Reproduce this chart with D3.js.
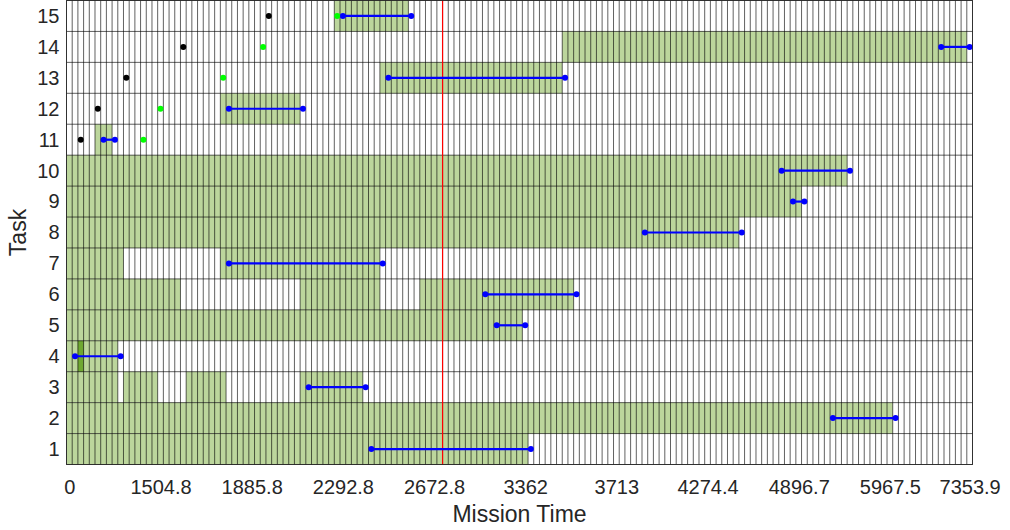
<!DOCTYPE html>
<html>
<head>
<meta charset="utf-8">
<title>Task schedule</title>
<script src="https://d3js.org/d3.v7.min.js"></script>
<style>
  body { margin: 0; background: #fff; }
  svg { font-family: "Liberation Sans", Arial, sans-serif; }
</style>
</head>
<body>
<script>
// time slots on the x axis (one column per slot)
var nSlots = 159;
var tickSlots = [0, 16, 32, 48, 64, 80, 96, 112, 128, 144, 158];
var tickLabels = ["0", "1504.8", "1885.8", "2292.8", "2672.8", "3362", "3713", "4274.4", "4896.7", "5967.5", "7353.9"];
var tasks = [1, 2, 3, 4, 5, 6, 7, 8, 9, 10, 11, 12, 13, 14, 15];

// busy blocks: [task, first slot, end slot]
var blocks = [
  [15, 47, 60], [14, 87, 158], [13, 55, 87], [12, 27, 41], [11, 5, 8],
  [10, 0, 137], [9, 0, 129], [8, 0, 118],
  [7, 0, 10], [7, 27, 55],
  [6, 0, 20], [6, 41, 55], [6, 62, 89],
  [5, 0, 80], [4, 0, 9],
  [3, 0, 9], [3, 10, 16], [3, 21, 28], [3, 41, 52],
  [2, 0, 145], [1, 0, 81]
];
var darkBlocks = [[4, 2, 3]];

// blue spans: [task, from slot, to slot]
var spans = [
  [15, 48, 60], [14, 153, 158], [13, 56, 87], [12, 28, 41], [11, 6, 8],
  [10, 125, 137], [9, 127, 129], [8, 101, 118], [7, 28, 55], [6, 73, 89],
  [5, 75, 80], [4, 1, 9], [3, 42, 52], [2, 134, 145], [1, 53, 81]
];
var blackDots = [[15, 35], [14, 20], [13, 10], [12, 5], [11, 2]];
var greenDots = [[15, 47], [14, 34], [13, 27], [12, 16], [11, 13]];
var currentSlot = 66;

var W = 1010, H = 530;
var svg = d3.select("body").append("svg").attr("width", W).attr("height", H);

var x = d3.scaleLinear().domain([0, nSlots]).range([66.5, 972.5]);
var y = d3.scaleLinear().domain([0.5, 15.5]).range([464.5, 0.5]);
var rowH = y(0.5) - y(1.5);

// blocks
svg.append("g").selectAll("rect").data(blocks).join("rect")
  .attr("x", function(d) { return x(d[1]); })
  .attr("y", function(d) { return y(d[0] + 0.5); })
  .attr("width", function(d) { return x(d[2]) - x(d[1]); })
  .attr("height", rowH)
  .attr("fill", "#bcd69c");
svg.append("g").selectAll("rect").data(darkBlocks).join("rect")
  .attr("x", function(d) { return x(d[1]); })
  .attr("y", function(d) { return y(d[0] + 0.5); })
  .attr("width", function(d) { return x(d[2]) - x(d[1]); })
  .attr("height", rowH)
  .attr("fill", "#6fa832");

// grid
var grid = svg.append("g").attr("stroke", "#000").attr("stroke-opacity", 0.62).attr("stroke-width", 1);
grid.selectAll("line.v").data(d3.range(0, nSlots + 1)).join("line")
  .attr("class", "v")
  .attr("x1", function(d) { return x(d); }).attr("x2", function(d) { return x(d); })
  .attr("y1", y(15.5)).attr("y2", y(0.5));
grid.selectAll("line.h").data(d3.range(0.5, 16, 1)).join("line")
  .attr("class", "h")
  .attr("x1", x(0)).attr("x2", x(nSlots))
  .attr("y1", function(d) { return y(d); }).attr("y2", function(d) { return y(d); });

// current time
svg.append("line")
  .attr("x1", x(currentSlot)).attr("x2", x(currentSlot))
  .attr("y1", y(15.5)).attr("y2", y(0.5))
  .attr("stroke", "#ff0000").attr("stroke-width", 1.2);

// spans
var sp = svg.append("g");
sp.selectAll("line").data(spans).join("line")
  .attr("x1", function(d) { return x(d[1] + 0.5); })
  .attr("x2", function(d) { return x(d[2] + 0.5); })
  .attr("y1", function(d) { return y(d[0]); })
  .attr("y2", function(d) { return y(d[0]); })
  .attr("stroke", "#0000ff").attr("stroke-width", 2.2);
sp.selectAll("circle.a").data(spans).join("circle")
  .attr("class", "a")
  .attr("cx", function(d) { return x(d[1] + 0.5); })
  .attr("cy", function(d) { return y(d[0]); })
  .attr("r", 3).attr("fill", "#0000ff");
sp.selectAll("circle.b").data(spans).join("circle")
  .attr("class", "b")
  .attr("cx", function(d) { return x(d[2] + 0.5); })
  .attr("cy", function(d) { return y(d[0]); })
  .attr("r", 3).attr("fill", "#0000ff");

svg.append("g").selectAll("circle").data(greenDots).join("circle")
  .attr("cx", function(d) { return x(d[1] + 0.5); })
  .attr("cy", function(d) { return y(d[0]); })
  .attr("r", 3).attr("fill", "#00ff00");
svg.append("g").selectAll("circle").data(blackDots).join("circle")
  .attr("cx", function(d) { return x(d[1] + 0.5); })
  .attr("cy", function(d) { return y(d[0]); })
  .attr("r", 3).attr("fill", "#000");

// axes
var xAxis = d3.axisBottom(x)
  .tickValues(tickSlots.map(function(s) { return s + 0.5; }))
  .tickFormat(function(d, i) { return tickLabels[i]; })
  .tickSize(0).tickPadding(15);
var gx = svg.append("g").attr("transform", "translate(0," + y(0.5) + ")").call(xAxis);
var yAxis = d3.axisLeft(y).tickValues(tasks).tickFormat(d3.format("d")).tickSize(0).tickPadding(7);
var gy = svg.append("g").attr("transform", "translate(" + x(0) + ",0)").call(yAxis);
[gx, gy].forEach(function(g) {
  g.select(".domain").remove();
  g.selectAll("text").attr("font-size", 20).attr("fill", "#262626")
    .attr("font-family", "Liberation Sans, Arial, sans-serif");
});

// frame
svg.append("rect")
  .attr("x", x(0)).attr("y", y(15.5))
  .attr("width", x(nSlots) - x(0)).attr("height", y(0.5) - y(15.5))
  .attr("fill", "none").attr("stroke", "#262626").attr("stroke-opacity", 0.8);

svg.append("text")
  .attr("x", (x(0) + x(nSlots)) / 2).attr("y", 522)
  .attr("text-anchor", "middle").attr("font-size", 23).attr("fill", "#262626")
  .text("Mission Time");
svg.append("text")
  .attr("transform", "translate(26," + (y(0.5) + y(15.5)) / 2 + ") rotate(-90)")
  .attr("text-anchor", "middle").attr("font-size", 23).attr("fill", "#262626")
  .text("Task");
</script>
</body>
</html>
